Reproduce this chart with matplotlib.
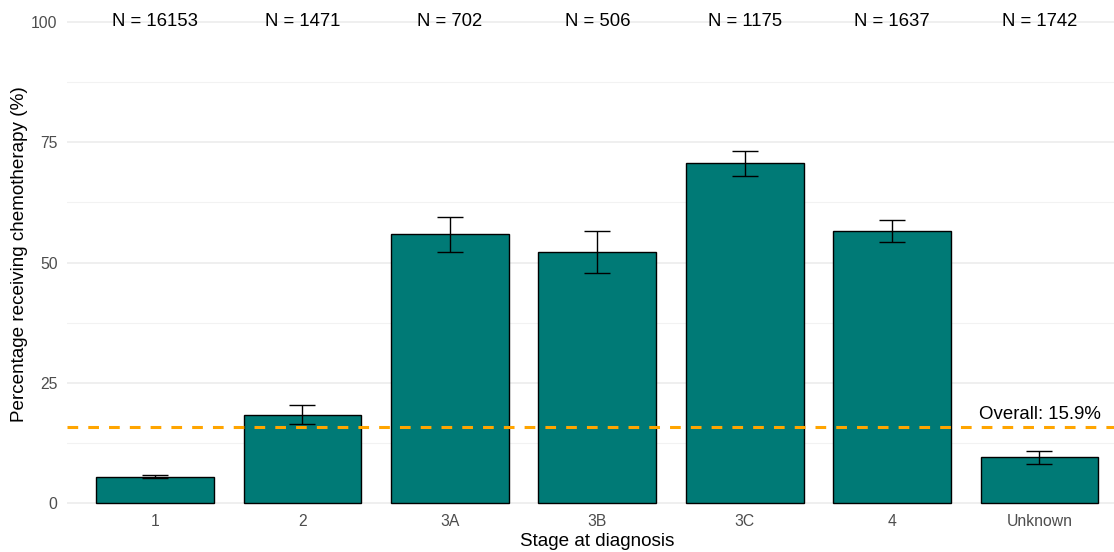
import matplotlib
matplotlib.use("Agg")
import matplotlib.pyplot as plt
import numpy as np

plt.rcParams['font.family'] = ['Liberation Sans', 'DejaVu Sans']

# data
stages = ['1', '2', '3A', '3B', '3C', '4', 'Unknown']
pct = [5.5, 18.3, 55.9, 52.2, 70.8, 56.6, 9.6]
ci_low = [5.2, 16.4, 52.2, 47.9, 68.1, 54.3, 8.2]
ci_high = [5.8, 20.4, 59.5, 56.5, 73.2, 58.9, 10.9]
n_counts = [16153, 1471, 702, 506, 1175, 1637, 1742]
overall = 15.9

fig = plt.figure(figsize=(11.14, 5.52), dpi=100)
ax = fig.add_axes([0.0598, 0.0783, 0.9527, 0.9217])

x = np.arange(1, len(stages) + 1)
pct = np.array(pct)
yerr = [pct - np.array(ci_low), np.array(ci_high) - pct]

ax.bar(x, pct, width=0.8, color='#007A76', edgecolor='black', linewidth=1.0, zorder=3)
ax.errorbar(x, pct, yerr=yerr, fmt='none', ecolor='black', elinewidth=1.0,
            capsize=9.5, capthick=1.0, zorder=4)

ax.axhline(overall, color='#FFA500', linewidth=2.2, dashes=(3.5, 3.3), zorder=5)
ax.text(7, 17.5, 'Overall: %.1f%%' % overall, ha='center', va='baseline',
        fontsize=13.4, color='black', zorder=6)

for xi, n in zip(x, n_counts):
    ax.text(xi, 99.2, 'N = %d' % n, ha='center', va='baseline', fontsize=13.3, color='black')

ax.set_xlim(0.4, 7.6)
ax.set_ylim(-1.2, 104.6)
ax.set_xticks(x)
ax.set_xticklabels(stages)
ax.set_yticks([0, 25, 50, 75, 100])
ax.set_yticks([12.5, 37.5, 62.5, 87.5], minor=True)
ax.tick_params(axis='both', which='both', length=0, labelsize=11.3, colors='#4D4D4D')
ax.tick_params(axis='x', pad=3.5)
ax.tick_params(axis='y', pad=6.5)
ax.grid(axis='y', which='major', color='#EBEBEB', linewidth=1.1, zorder=0)
ax.grid(axis='y', which='minor', color='#F2F2F2', linewidth=0.8, zorder=0)
ax.grid(axis='x', visible=False)
for s in ax.spines.values():
    s.set_visible(False)

ax.set_xlabel('Stage at diagnosis', fontsize=13.6, color='black', labelpad=3)
ax.set_ylabel('Percentage receiving chemotherapy (%)', fontsize=13.6, color='black', labelpad=2.5)

fig.savefig('out.png', dpi=100)
